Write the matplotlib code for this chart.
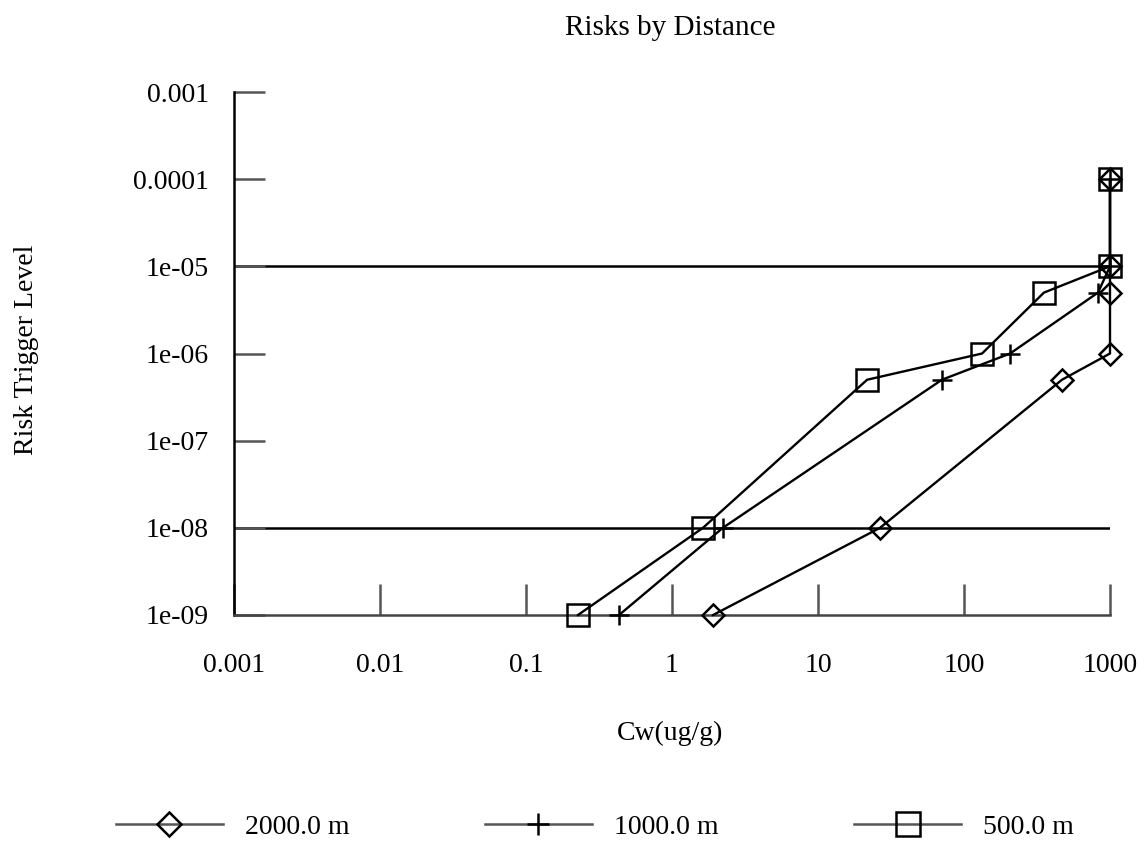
import matplotlib
matplotlib.use("Agg")
import matplotlib.pyplot as plt
from matplotlib.lines import Line2D

plt.rcParams["font.family"] = ["Liberation Serif", "DejaVu Serif"]

# Cw (ug/g) vs risk trigger level for each distance
cw_2000 = [1.91, 26.6, 469, 1000, 1000, 1000, 1000]
risk_2000 = [1e-9, 1e-8, 5e-7, 1e-6, 5e-6, 1e-5, 1e-4]

cw_1000 = [0.434, 2.23, 70.6, 207, 828, 1000, 1000]
risk_1000 = [1e-9, 1e-8, 5e-7, 1e-6, 5e-6, 1e-5, 1e-4]

cw_500 = [0.227, 1.63, 21.7, 133, 353, 1000, 1000]
risk_500 = [1e-9, 1e-8, 5e-7, 1e-6, 5e-6, 1e-5, 1e-4]

trigger_levels = [1e-5, 1e-8]

x_ticks = [0.001, 0.01, 0.1, 1, 10, 100, 1000]
x_labels = ["0.001", "0.01", "0.1", "1", "10", "100", "1000"]
y_ticks = [1e-9, 1e-8, 1e-7, 1e-6, 1e-5, 1e-4, 1e-3]
y_labels = ["1e-09", "1e-08", "1e-07", "1e-06", "1e-05", "0.0001", "0.001"]

W, H = 1145, 844
fig = plt.figure(figsize=(W / 100, H / 100), dpi=100)
ax = fig.add_axes([234 / W, 1 - 615 / H, (1110 - 234) / W, (615 - 92) / H])

ax.set_xscale("log")
ax.set_yscale("log")
ax.set_xlim(0.001, 1000)
ax.set_ylim(1e-9, 1e-3)

for lvl in trigger_levels:
    ax.plot([x_ticks[0], x_ticks[-1]], [lvl, lvl], color="black", lw=1.8, zorder=1)

series = [
    (cw_2000, risk_2000, "D", 11, "2000.0 m"),
    (cw_1000, risk_1000, "+", 15, "1000.0 m"),
    (cw_500, risk_500, "s", 16, "500.0 m"),
]
handles = []
for xs, ys, mk, ms, lab in series:
    ax.plot(xs, ys, color="black", lw=1.7, marker=mk, markersize=ms,
            markerfacecolor="none", markeredgecolor="black", markeredgewidth=1.8,
            clip_on=False, zorder=3)
    handles.append(Line2D([], [], color="#555555", lw=1.8, marker=mk, markersize=ms + 1.5,
                          markerfacecolor="none", markeredgecolor="black",
                          markeredgewidth=1.8, label=lab))

ax.set_xticks(x_ticks)
ax.set_xticklabels(x_labels)
ax.set_yticks(y_ticks)
ax.set_yticklabels(y_labels)
ax.minorticks_off()

for s in ["top", "right"]:
    ax.spines[s].set_visible(False)
ax.spines["left"].set_linewidth(1.8)
ax.spines["bottom"].set_linewidth(1.8)
ax.spines["bottom"].set_color("#444444")

ax.tick_params(axis="x", direction="in", length=22, width=1.8, color="#555555",
               pad=27, labelsize=20)
ax.tick_params(axis="y", direction="in", length=22, width=1.8, color="#555555",
               pad=18, labelsize=20)

fig.text(670 / W, 1 - 35 / H, "Risks by Distance", ha="center", va="baseline", fontsize=21)
fig.text(670 / W, 1 - 733 / H, "Cw(ug/g)", ha="center", va="center", fontsize=20)
fig.text(27 / W, 1 - 350 / H, "Risk Trigger Level", ha="center", va="center",
         rotation=90, fontsize=20)

fig.legend(handles=handles, loc="center", bbox_to_anchor=(595 / W, 1 - 827 / H),
           ncol=3, frameon=False, fontsize=20, handlelength=3.85,
           handletextpad=0.8, columnspacing=4.88, borderpad=0, borderaxespad=0)

fig.savefig("out.png", dpi=100)
